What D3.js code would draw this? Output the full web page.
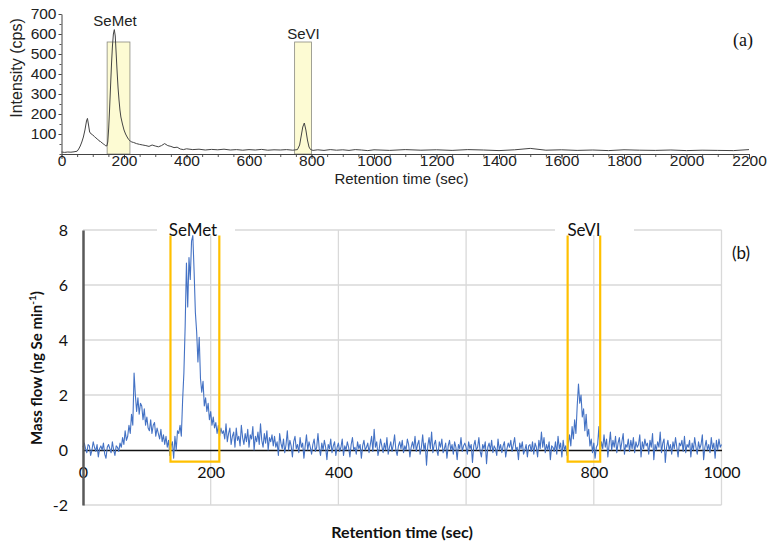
<!DOCTYPE html>
<html><head><meta charset="utf-8">
<script src="https://cdn.jsdelivr.net/npm/d3@7"></script>
<style>html,body{margin:0;padding:0;background:#fff;}svg{display:block;}</style>
</head><body>
<svg id="chart" width="772" height="544"></svg>
<script>
// ---------- Panel (a) data ----------
const topTime = [
  0,10,20,30,40,50,55,60,65,70,
  75,80,83,86,90,95,100,105,110,115,
  120,125,130,135,140,145,148,151,154,157,
  160,163,166,169,172,175,178,181,184,187,
  190,195,200,205,210,215,220,225,230,240,
  250,260,270,280,290,300,310,320,330,340,
  350,360,370,380,390,400,420,440,460,480,
  500,520,540,560,580,600,620,640,660,680,
  700,720,740,755,762,767,772,777,782,787,
  792,797,805,820,840,860,880,900,920,940,
  960,980,1000,1050,1100,1150,1200,1250,1300,1350,
  1400,1450,1500,1550,1600,1650,1700,1750,1800,1850,
  1900,1950,2000,2050,2100,2150,2200];
const topIntensity = [
  10,8,10,9,11,14,25,40,60,85,
  120,165,178,150,110,100,95,88,80,75,
  66,62,55,50,42,40,60,130,230,340,
  450,540,600,622,590,500,410,330,270,220,
  185,150,120,100,85,72,65,60,58,52,
  48,45,42,38,45,40,36,42,52,42,
  38,32,34,25,22,26,22,24,20,23,
  21,24,20,22,19,22,20,23,19,21,
  20,22,19,22,45,90,135,155,120,70,
  35,22,18,21,18,22,19,21,18,22,
  20,17,21,18,22,19,21,18,22,20,
  17,21,28,19,21,18,20,17,21,19,
  18,20,17,19,18,17,22];
const topXTicks = [0,200,400,600,800,1000,1200,1400,1600,1800,2000,2200];
const topYTicks = [100,200,300,400,500,600,700];
const topBoxes = [
  {label:"SeMet", x0:146, x1:219, top:560},
  {label:"SeVI",  x0:746, x1:800, top:560}];

// ---------- Panel (b) data ----------
const flowStart = 0, flowStep = 2;   // sampling grid (sec)
const massFlow = [
  // 0-58
  0.1,0.25,0.05,-0.1,0.2,0.15,-0.2,0.0,0.3,0.1,
  -0.05,0.2,-0.25,0.05,0.15,0.0,0.25,-0.15,-0.3,0.1,
  0.2,0.05,-0.1,0.3,0.0,-0.2,0.15,0.1,-0.05,0.25,
  // 60-138
  0.1,0.45,0.2,0.7,0.35,0.5,0.9,0.6,1.3,0.9,
  2.8,2.0,1.4,1.9,1.3,1.7,1.6,1.1,1.5,0.9,
  1.2,0.8,0.7,1.1,0.6,0.9,1.0,0.5,0.8,0.6,
  0.4,0.75,0.3,0.55,0.2,0.5,0.1,0.35,-0.2,0.15,
  // 140-218
  0.3,-0.3,0.5,0.0,0.7,0.6,0.9,0.5,1.8,2.8,
  4.5,6.8,5.2,7.0,6.2,7.6,7.8,6.5,5.0,4.3,
  3.2,4.1,2.6,2.1,2.5,1.6,1.9,1.4,1.7,1.1,
  1.4,0.9,1.2,0.8,1.0,0.6,0.9,0.5,0.8,0.6,
  // 220-298
  0.7,0.4,0.95,0.3,0.6,0.8,0.2,0.5,0.65,0.1,
  0.8,0.35,0.5,0.15,0.9,0.45,0.2,0.6,0.3,0.75,
  0.1,0.55,0.4,0.85,0.0,0.5,0.3,0.65,0.2,0.95,
  0.35,0.1,0.6,0.25,0.7,0.0,0.45,0.3,0.55,0.15,
  // 300-398
  0.5,0.1,0.3,-0.2,0.6,0.25,0.05,0.4,-0.1,0.2,
  0.7,0.0,0.35,0.15,-0.25,0.3,0.5,0.05,0.2,-0.1,
  0.45,0.1,0.25,-0.3,0.15,0.55,0.0,0.3,0.1,-0.15,
  0.2,0.4,-0.05,0.1,0.6,0.05,-0.2,0.25,0.0,0.35,
  0.1,-0.35,0.2,0.05,0.4,-0.1,0.15,0.3,-0.2,0.1,
  // 400-498
  0.25,-0.05,0.1,0.4,-0.2,0.15,0.0,0.3,0.1,-0.25,
  0.2,0.45,0.0,0.1,-0.15,0.3,0.05,0.2,-0.3,0.15,
  0.35,0.0,0.1,0.25,-0.1,0.2,0.5,-0.05,0.75,0.1,
  0.3,-0.2,0.05,0.4,0.15,-0.1,0.25,0.0,0.45,-0.15,
  0.1,0.3,-0.05,0.2,0.55,0.0,-0.2,0.15,0.3,0.05,
  // 500-598
  0.35,-0.1,0.15,0.0,0.4,0.2,-0.25,0.1,0.3,0.05,
  0.5,-0.05,0.2,0.35,-0.15,0.1,0.55,0.0,0.25,-0.55,
  0.15,0.45,0.05,0.65,-0.1,0.2,0.35,0.0,-0.2,0.3,
  0.1,0.4,-0.1,0.05,0.25,-0.3,0.15,0.35,0.0,0.2,
  -0.15,0.3,0.1,-0.35,0.2,0.05,0.45,-0.05,0.15,0.25,
  // 600-698
  0.1,-0.15,0.3,0.05,0.2,-0.45,0.15,0.35,0.0,0.1,
  0.45,-0.05,-0.25,0.2,0.05,0.3,-0.5,0.1,0.25,0.0,
  0.35,-0.1,0.15,0.05,-0.2,0.4,0.0,0.2,-0.1,0.15,
  0.3,-0.25,0.05,0.25,0.1,0.35,-0.05,0.2,0.45,0.0,
  0.1,-0.35,0.25,0.05,0.3,-0.15,0.0,0.2,-0.25,0.15,
  // 700-758
  0.2,-0.05,0.3,-0.15,0.25,0.1,-0.25,0.35,0.05,0.65,
  0.1,0.45,-0.1,0.2,0.0,0.3,-0.35,0.15,0.1,-0.05,
  0.3,-0.15,0.5,0.05,0.25,-0.25,0.35,0.0,0.15,-0.2,
  // 760-798
  0.25,0.55,0.15,0.85,0.4,1.1,0.6,1.6,2.4,1.7,
  2.0,1.2,1.5,0.7,1.3,0.5,0.75,0.15,0.4,-0.1,
  // 800-858
  0.25,-0.3,0.1,0.2,0.85,-0.15,0.3,0.05,0.55,0.1,
  0.4,-0.25,0.2,0.65,0.0,0.35,0.1,0.5,-0.1,0.25,
  0.45,0.0,0.3,0.6,-0.15,0.2,0.1,0.4,-0.05,0.35,
  // 860-998
  0.05,0.45,-0.1,0.3,0.1,0.2,0.55,-0.25,0.3,0.05,
  0.4,0.15,0.25,-0.15,0.35,0.1,0.6,-0.35,0.2,0.0,
  0.3,0.1,0.65,-0.1,0.25,0.4,-0.45,0.1,0.35,0.0,
  0.2,-0.15,0.3,0.05,0.45,0.1,-0.25,0.25,0.15,0.35,
  -0.05,0.5,-0.1,0.2,0.1,0.35,-0.25,0.25,0.0,0.45,
  0.1,-0.15,0.3,0.05,0.2,0.55,-0.35,0.1,0.35,0.0,
  0.2,-0.1,0.45,0.05,0.25,-0.3,0.35,0.0,0.4,0.1,
  // 1000
  0.2];
const botXTicks = [0,200,400,600,800,1000];
const botYTicks = [-2,0,2,4,6,8];
const botBoxes = [
  {label:"SeMet", x0:137, x1:213.5, lo:-0.42, hi:7.8},
  {label:"SeVI",  x0:759, x1:810,   lo:-0.42, hi:7.8}];

// ---------- Drawing ----------
const svg = d3.select("#chart");
const arial = "'Liberation Sans', Arial, sans-serif";
const cal = "Lato, 'Open Sans', sans-serif";
const plain = d => String(d);

// ===== Panel (a) =====
const xa = d3.scaleLinear().domain([0,2200]).range([61.5,749]);
const ya = d3.scaleLinear().domain([0,700]).range([154,14]);
const ga = svg.append("g");

ga.selectAll("rect.hl").data(topBoxes).join("rect")
  .attr("x", d=>xa(d.x0)).attr("width", d=>xa(d.x1)-xa(d.x0))
  .attr("y", d=>ya(d.top)).attr("height", d=>ya(0)-ya(d.top))
  .attr("fill","#fdfbd3").attr("stroke","#8a8a80").attr("stroke-width",0.8);

// minor ticks
const minorX = d3.range(0,2201,50);
const minorY = d3.range(0,701,50);
ga.append("g").attr("transform",`translate(0,${ya(0)})`)
  .call(d3.axisBottom(xa).tickValues(minorX).tickSize(3).tickFormat(""))
  .call(g=>g.select(".domain").remove())
  .call(g=>g.selectAll("line").attr("stroke","#555"));
ga.append("g").attr("transform",`translate(${xa(0)},0)`)
  .call(d3.axisLeft(ya).tickValues(minorY).tickSize(2).tickFormat(""))
  .call(g=>g.select(".domain").remove())
  .call(g=>g.selectAll("line").attr("stroke","#555"));

const axA = ga.append("g").attr("transform",`translate(0,${ya(0)})`)
  .call(d3.axisBottom(xa).tickValues(topXTicks).tickFormat(plain).tickSize(5).tickSizeOuter(0));
axA.selectAll(".tick text").attr("y",1);
const ayA = ga.append("g").attr("transform",`translate(${xa(0)},0)`)
  .call(d3.axisLeft(ya).tickValues(topYTicks).tickFormat(plain).tickSize(3).tickPadding(2).tickSizeOuter(0));
[axA, ayA].forEach(a=>{
  a.select(".domain").attr("stroke","#444").attr("stroke-width",1);
  a.selectAll(".tick line").attr("stroke","#444");
  a.selectAll("text").attr("font-family",arial).attr("font-size",15.5).attr("fill","#222");
});

ga.append("path").datum(topTime.map((t,i)=>[t,topIntensity[i]]))
  .attr("d", d3.line().x(d=>xa(d[0])).y(d=>ya(d[1])))
  .attr("fill","none").attr("stroke","#444").attr("stroke-width",1);

ga.append("text").text("SeMet").attr("x",115).attr("y",26)
  .attr("text-anchor","middle").attr("font-family",arial).attr("font-size",15).attr("fill","#222");
ga.append("text").text("SeVI").attr("x",303.5).attr("y",38.5)
  .attr("text-anchor","middle").attr("font-family",arial).attr("font-size",15).attr("fill","#222");
ga.append("text").text("Intensity (cps)")
  .attr("transform","translate(22,68) rotate(-90)")
  .attr("text-anchor","middle").attr("font-family",arial).attr("font-size",16).attr("fill","#222");
ga.append("text").text("Retention time (sec)").attr("x",401.5).attr("y",184)
  .attr("text-anchor","middle").attr("font-family",arial).attr("font-size",15).attr("fill","#222");
ga.append("text").text("(a)").attr("x",743).attr("y",46)
  .attr("text-anchor","middle").attr("font-family","'Liberation Serif', 'Times New Roman', serif")
  .attr("font-size",18).attr("fill","#111");

// ===== Panel (b) =====
const xb = d3.scaleLinear().domain([0,1000]).range([83,721.5]);
const yb = d3.scaleLinear().domain([-2,8]).range([505,230]);
const gb = svg.append("g");

// gridlines
gb.append("g").selectAll("line").data([-2,2,4,6,8]).join("line")
  .attr("x1",xb(0)).attr("x2",xb(1000)).attr("y1",d=>yb(d)).attr("y2",d=>yb(d))
  .attr("stroke","#d9d9d9").attr("stroke-width",1.3);
gb.append("g").selectAll("line").data([200,400,600,800,1000]).join("line")
  .attr("x1",d=>xb(d)).attr("x2",d=>xb(d)).attr("y1",yb(8)).attr("y2",yb(-2))
  .attr("stroke","#d9d9d9").attr("stroke-width",1.3);

// x axis at zero
const axB = gb.append("g").attr("transform",`translate(0,${yb(0)})`)
  .call(d3.axisBottom(xb).tickValues(botXTicks).tickFormat(plain).tickSize(0).tickPadding(17));
axB.select(".domain").attr("stroke","#111").attr("stroke-width",1.3);
axB.selectAll("text").attr("font-family",cal).attr("font-size",16).attr("fill","#111");

// data line
gb.append("path").datum(massFlow.map((v,i)=>[flowStart+i*flowStep, v]))
  .attr("d", d3.line().x(d=>xb(d[0])).y(d=>yb(d[1])))
  .attr("fill","none").attr("stroke","#4472c4").attr("stroke-width",1.1)
  .attr("stroke-linejoin","round");

// y axis
const ayB = gb.append("g").attr("transform",`translate(${xb(0)},0)`)
  .call(d3.axisLeft(yb).tickValues(botYTicks).tickFormat(plain).tickSize(0).tickPadding(15));
ayB.select(".domain").attr("stroke","#595959").attr("stroke-width",2.5);
ayB.selectAll("text").attr("font-family",cal).attr("font-size",16).attr("fill","#111");

// orange boxes (open top)
gb.selectAll("path.box").data(botBoxes).join("path")
  .attr("d", d=>d3.line()([[xb(d.x0),yb(d.hi)],[xb(d.x0),yb(d.lo)],[xb(d.x1),yb(d.lo)],[xb(d.x1),yb(d.hi)]]))
  .attr("fill","none").attr("stroke","#ffc000").attr("stroke-width",2.2);

// label backgrounds
gb.append("rect").attr("x",157).attr("y",221).attr("width",78).attr("height",14).attr("fill","#fff");
gb.append("rect").attr("x",555).attr("y",221).attr("width",79).attr("height",14).attr("fill","#fff");
gb.append("rect").attr("x",723).attr("y",234).attr("width",40).attr("height",41).attr("fill","#fff");

gb.append("text").text("SeMet").attr("x",193).attr("y",236)
  .attr("text-anchor","middle").attr("font-family",cal).attr("font-size",17).attr("fill","#111");
gb.append("text").text("SeVI").attr("x",584).attr("y",236)
  .attr("text-anchor","middle").attr("font-family",cal).attr("font-size",17).attr("fill","#111");
gb.append("text").text("(b)").attr("x",741).attr("y",259)
  .attr("text-anchor","middle").attr("font-family",cal).attr("font-size",17).attr("fill","#111");

const yl = gb.append("text")
  .attr("transform","translate(42,368) rotate(-90)")
  .attr("text-anchor","middle").attr("font-family",cal).attr("font-weight","bold")
  .attr("font-size",15).attr("fill","#111");
yl.append("tspan").text("Mass flow (ng Se min");
yl.append("tspan").text("-1").attr("font-size",10).attr("dy",-6);
yl.append("tspan").text(")").attr("dy",6);

gb.append("text").text("Retention time (sec)").attr("x",402).attr("y",538)
  .attr("text-anchor","middle").attr("font-family",cal).attr("font-weight","bold")
  .attr("font-size",16).attr("fill","#111");
</script>
</body></html>
